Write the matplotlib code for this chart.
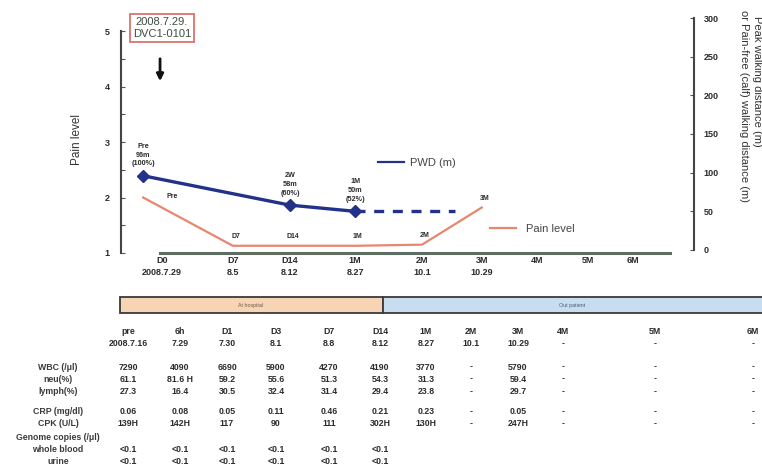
import matplotlib
matplotlib.use("Agg")
import matplotlib.pyplot as plt
from matplotlib.patches import Rectangle
from matplotlib.lines import Line2D

plt.rcParams['font.family'] = ['Liberation Sans', 'DejaVu Sans']

# ---------------- clinical course (upper chart) ----------------
time_labels = ["D0", "D7", "D14", "1M", "2M", "3M", "4M", "5M", "6M"]
time_dates = ["2008.7.29", "8.5", "8.12", "8.27", "10.1", "10.29", "", "", ""]

pain_points = ["Pre", "D7", "D14", "1M", "2M", "3M"]
pain_level = [2.0, 1.13, 1.13, 1.13, 1.15, 1.82]
pain_tags = ["Pre", "D7", "D14", "1M", "2M", "3M"]

pwd_points = ["Pre", "D14", "1M"]
pwd_m = [96, 58, 50]
pwd_pct = [100, 60, 52]
pwd_tags = ["Pre", "2W", "1M"]

# ---------------- laboratory table ----------------
col_labels = ["pre", "6h", "D1", "D3", "D7", "D14", "1M", "2M", "3M", "4M", "5M", "6M"]
col_dates = ["2008.7.16", "7.29", "7.30", "8.1", "8.8", "8.12", "8.27", "10.1", "10.29", "-", "-", "-"]
wbc = ["7290", "4090", "6690", "5900", "4270", "4190", "3770", "-", "5790", "-", "-", "-"]
neu = ["61.1", "81.6 H", "59.2", "55.6", "51.3", "54.3", "31.3", "-", "59.4", "-", "-", "-"]
lymph = ["27.3", "16.4", "30.5", "32.4", "31.4", "29.4", "23.8", "-", "29.7", "-", "-", "-"]
crp = ["0.06", "0.08", "0.05", "0.11", "0.46", "0.21", "0.23", "-", "0.05", "-", "-", "-"]
cpk = ["139H", "142H", "117", "90", "111", "302H", "130H", "-", "247H", "-", "-", "-"]
genome_blood = ["<0.1", "<0.1", "<0.1", "<0.1", "<0.1", "<0.1"]
genome_urine = ["<0.1", "<0.1", "<0.1", "<0.1", "<0.1", "<0.1"]

# ---------------- layout ----------------
W, H = 762, 471
fig = plt.figure(figsize=(W / 100, H / 100), dpi=100)


def fx(px):
    return px / W


def fy(py):
    return 1 - py / H


# horizontal slot positions of the time points (one unit = 65 px)
slot_x = {"Pre": -0.29, "D0": 0.0, "D7": 1.09, "D14": 1.97, "1M": 2.97,
          "2M": 4.0, "3M": 4.92, "4M": 5.77, "5M": 6.55, "6M": 7.25}
pwd_dash_end = slot_x["2M"] + 0.5

TXT = "#2b2b2b"
BLUE = "#22318a"
ORANGE = "#e8876f"

ax = fig.add_axes([fx(121), fy(253), (694 - 121) / W, (253 - 18) / H])
ax.set_xlim((121 - 162) / 65, (694 - 162) / 65)
ax.set_ylim(1, 5 + 13 / 55.5)

ax2 = ax.twinx()
ax2.set_ylim(-3 / 0.7733, 300)

for s in ["top", "right"]:
    ax.spines[s].set_visible(False)
for s in ["top", "left", "bottom"]:
    ax2.spines[s].set_visible(False)

ax.spines["left"].set_bounds(1, 5)
ax.spines["left"].set_color("#444444")
ax.spines["left"].set_linewidth(1.5)
ax.spines["bottom"].set_bounds((160 - 162) / 65, (670 - 162) / 65)
ax.spines["bottom"].set_color("#5d6d60")
ax.spines["bottom"].set_linewidth(2.2)
ax2.spines["right"].set_bounds(0, 300)
ax2.spines["right"].set_color("#444444")
ax2.spines["right"].set_linewidth(1.5)

ax.set_yticks([1, 2, 3, 4, 5])
ax.set_yticks([1.5, 2.5, 3.5, 4.5], minor=True)
ax.tick_params(axis="y", which="both", direction="in", length=3, width=0.8,
               colors="#555555", labelcolor=TXT, labelsize=6.5, pad=8)
for t in ax.get_yticklabels():
    t.set_fontweight("bold")

ax2.set_yticks([0, 50, 100, 150, 200, 250, 300])
ax2.tick_params(axis="y", direction="in", length=3, width=0.8,
                colors="#555555", labelcolor=TXT, labelsize=6.5, pad=7)
for t in ax2.get_yticklabels():
    t.set_fontweight("bold")

ax.set_xticks([slot_x[k] for k in time_labels])
ax.set_xticklabels([f"{a}\n{b}" if b else a for a, b in zip(time_labels, time_dates)],
                   fontsize=6.5, fontweight="bold", color=TXT, linespacing=1.3,
                   va="top")
ax.tick_params(axis="x", length=0, pad=2.5)

# pain level line
px_pain = [slot_x[k] for k in pain_points]
ax.plot(px_pain, pain_level, color=ORANGE, lw=1.6, zorder=2)
for i, (x, y, tag) in enumerate(zip(px_pain, pain_level, pain_tags)):
    off = (21, -2) if i == 0 else (2, 4)
    ax.annotate(tag, (x, y), xytext=off, textcoords="offset points",
                ha="center", va="bottom", fontsize=5, fontweight="bold", color=TXT)

# peak walking distance line (right axis)
px_pwd = [slot_x[k] for k in pwd_points]
ax2.plot(px_pwd, pwd_m, color=BLUE, lw=2.4, marker="D", ms=6.5, zorder=3)
ax2.plot([px_pwd[-1], pwd_dash_end], [pwd_m[-1], pwd_m[-1]], color=BLUE,
         lw=2.4, ls=(0, (3, 2.6)), zorder=3)
for x, y, tag, pct in zip(px_pwd, pwd_m, pwd_tags, pwd_pct):
    ax2.annotate(f"{tag}\n{y}m\n({pct}%)", (x, y), xytext=(0, 6),
                 textcoords="offset points", ha="center", va="bottom",
                 fontsize=5.2, fontweight="bold", color=TXT, linespacing=1.35)

# legends
leg1 = ax.legend([Line2D([], [], color=BLUE, lw=1.6)], ["PWD (m)"],
                 loc="center left", bbox_to_anchor=(fx(378), fy(163)),
                 bbox_transform=fig.transFigure, frameon=False, fontsize=8,
                 handlelength=2.3, handletextpad=0.6, borderpad=0, borderaxespad=0)
for t in leg1.get_texts():
    t.set_color("#444444")
ax.add_artist(leg1)
leg2 = ax.legend([Line2D([], [], color=ORANGE, lw=1.6)], ["Pain level"],
                 loc="center left", bbox_to_anchor=(fx(490), fy(229)),
                 bbox_transform=fig.transFigure, frameon=False, fontsize=8,
                 handlelength=2.3, handletextpad=0.9, borderpad=0, borderaxespad=0)
for t in leg2.get_texts():
    t.set_color("#444444")

# axis titles
fig.text(fx(77), fy(140), "Pain level", rotation=90, ha="center", va="center",
         fontsize=8.5, color="#333333")
fig.text(fx(757), fy(16), "Peak walking distance (m)", rotation=270,
         rotation_mode="anchor", ha="left", va="center", fontsize=8, color="#333333")
fig.text(fx(744), fy(10), "or Pain-free (calf) walking distance (m)", rotation=270,
         rotation_mode="anchor", ha="left", va="center", fontsize=8, color="#333333")

# start-of-treatment marker
fig.text(fx(162), fy(28), "2008.7.29.\nDVC1-0101", ha="center", va="center",
         fontsize=8, color="#3c4e40", linespacing=1.35,
         bbox=dict(boxstyle="square,pad=0.25", fc="white", ec="#d8746c", lw=1.3))
ax.annotate("", xy=(slot_x["D0"] - 0.03, (253 - 84) / 235),
            xytext=(slot_x["D0"] - 0.03, (253 - 56) / 235),
            xycoords=ax.get_xaxis_transform(), textcoords=ax.get_xaxis_transform(),
            arrowprops=dict(arrowstyle="-|>", color="#111111", lw=2.0, mutation_scale=10))

# ---------------- lower table ----------------
fig.add_artist(Rectangle((fx(120), fy(313)), 263 / W, 16 / H, transform=fig.transFigure,
                         fc="#f7d4b4", ec="#3a3a3a", lw=1.3))
fig.add_artist(Rectangle((fx(383), fy(313)), 390 / W, 16 / H, transform=fig.transFigure,
                         fc="#c8ddef", ec="#3a3a3a", lw=1.3))
fig.text(fx(251), fy(305), "At hospital", ha="center", va="center", fontsize=3.8,
         color="#6d5a45")
fig.text(fx(572), fy(305), "Out patient", ha="center", va="center", fontsize=3.8,
         color="#4b5a6a")

col_px = [128, 180, 227, 276, 329, 380, 426, 471, 518, 563, 655, 753]
row_label_x = 58

rows = [
    (331, None, col_labels),
    (344, None, col_dates),
    (367, "WBC (/\u03bcl)", wbc),
    (379, "neu(%)", neu),
    (392, "lymph(%)", lymph),
    (412, "CRP (mg/dl)", crp),
    (424, "CPK (U/L)", cpk),
    (437, "Genome copies (/\u03bcl)", []),
    (449, "whole blood", genome_blood),
    (461, "urine", genome_urine),
]
for y, label, vals in rows:
    if label:
        fig.text(fx(row_label_x), fy(y), label, ha="center", va="center",
                 fontsize=6.3, fontweight="bold", color="#3a3a3a")
    for x, v in zip(col_px, vals):
        fig.text(fx(x), fy(y), v, ha="center", va="center", fontsize=6.3,
                 fontweight="bold", color=TXT)

fig.savefig("out.png", dpi=100)
